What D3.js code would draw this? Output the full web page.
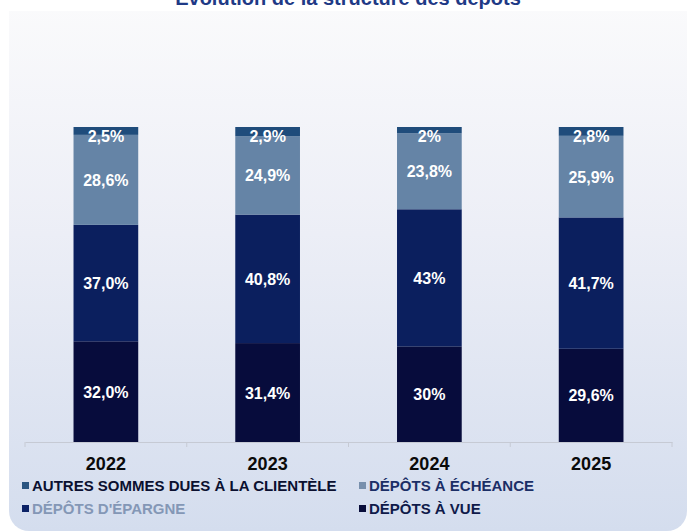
<!DOCTYPE html>
<html>
<head>
<meta charset="utf-8">
<script src="https://cdn.jsdelivr.net/npm/d3@7"></script>
<style>
  html, body { margin: 0; padding: 0; background: #ffffff; }
  svg { display: block; font-family: Arial, "Liberation Sans", sans-serif; }
</style>
</head>
<body>
<svg id="chart" width="691" height="532"></svg>
<script>
const categories = ["2022", "2023", "2024", "2025"];
const seriesNames = ["DÉPÔTS À VUE", "DÉPÔTS D'ÉPARGNE", "DÉPÔTS À ÉCHÉANCE", "AUTRES SOMMES DUES À LA CLIENTÈLE"];
const depotsAVue = [32.0, 31.4, 30, 29.6];
const depotsEpargne = [37.0, 40.8, 43, 41.7];
const depotsEcheance = [28.6, 24.9, 23.8, 25.9];
const autresSommes = [2.5, 2.9, 2, 2.8];
const labelsVue = ["32,0%", "31,4%", "30%", "29,6%"];
const labelsEpargne = ["37,0%", "40,8%", "43%", "41,7%"];
const labelsEcheance = ["28,6%", "24,9%", "23,8%", "25,9%"];
const labelsAutres = ["2,5%", "2,9%", "2%", "2,8%"];
const title = "Évolution de la structure des dépôts";

const seriesKeys = ["vue", "epargne", "echeance", "autres"];
const seriesValues = { vue: depotsAVue, epargne: depotsEpargne, echeance: depotsEcheance, autres: autresSommes };
const seriesLabels = { vue: labelsVue, epargne: labelsEpargne, echeance: labelsEcheance, autres: labelsAutres };
const colors = { vue: "#070c3c", epargne: "#0b1f5e", echeance: "#6584a6", autres: "#1f4c7b" };

const table = categories.map((c, i) => {
  const row = { cat: c, i: i };
  seriesKeys.forEach(k => row[k] = seriesValues[k][i]);
  return row;
});

const svg = d3.select("#chart");
const defs = svg.append("defs");
const grad = defs.append("linearGradient").attr("id", "bg").attr("x1", 0).attr("y1", 0).attr("x2", 0).attr("y2", 1);
grad.append("stop").attr("offset", "0%").attr("stop-color", "#fbfbfc");
grad.append("stop").attr("offset", "45%").attr("stop-color", "#eceef6");
grad.append("stop").attr("offset", "100%").attr("stop-color", "#d4ddee");

svg.append("rect").attr("x", 9).attr("y", -10).attr("width", 678).attr("height", 541)
  .attr("rx", 20).attr("fill", "url(#bg)");
svg.append("rect").attr("x", 9).attr("y", 0).attr("width", 678).attr("height", 11).attr("fill", "#ffffff");

svg.append("text").attr("x", 348).attr("y", 5).attr("text-anchor", "middle")
  .attr("font-size", 20).attr("font-weight", "bold").attr("fill", "#1f3a86").text(title);

const x = d3.scaleBand().domain(categories).range([25, 672]).paddingInner(0).paddingOuter(0);
const y = d3.scaleLinear().domain([0, 1]).range([442, 127]);
const barW = x.bandwidth() * 0.4;

const stack = d3.stack().keys(seriesKeys).offset(d3.stackOffsetExpand);
const stacked = stack(table);

const g = svg.append("g");
stacked.forEach(layer => {
  const key = layer.key;
  g.selectAll(null).data(layer).enter().append("rect")
    .attr("x", d => x(d.data.cat) + (x.bandwidth() - barW) / 2)
    .attr("y", d => y(d[1]))
    .attr("width", barW)
    .attr("height", d => y(d[0]) - y(d[1]))
    .attr("fill", colors[key]);
});
stacked.forEach(layer => {
  const key = layer.key;
  g.selectAll(null).data(layer).enter().append("text")
    .attr("x", d => x(d.data.cat) + x.bandwidth() / 2)
    .attr("y", d => Math.max((y(d[0]) + y(d[1])) / 2, y(d[1]) + 9) + 6)
    .attr("text-anchor", "middle")
    .attr("font-size", 16).attr("font-weight", "bold").attr("fill", "#ffffff")
    .text(d => seriesLabels[key][d.data.i]);
});

// axis
const axis = d3.axisBottom(x).tickSize(0).tickPadding(0);
const ax = svg.append("g").attr("transform", "translate(0,442)").call(axis);
ax.select(".domain").attr("stroke", "#c6cad4").attr("stroke-width", 1);
ax.selectAll(".tick text").attr("font-size", 18).attr("font-weight", "bold").attr("fill", "#0a0a0a")
  .attr("dy", null).attr("y", 28).attr("font-family", "Arial, 'Liberation Sans', sans-serif");
const bounds = categories.map(c => x(c)).concat([x.range()[1]]);
ax.selectAll(".sep").data(bounds).enter().append("line").attr("class", "sep")
  .attr("x1", d => d).attr("x2", d => d).attr("y1", 0).attr("y2", 5)
  .attr("stroke", "#c6cad4").attr("stroke-width", 1);

// legend
const legendItems = [
  { key: "autres", name: seriesNames[3], x: 22, y: 491, text: "#0b1030" },
  { key: "echeance", name: seriesNames[2], x: 359, y: 491, text: "#1b2e66" },
  { key: "epargne", name: seriesNames[1], x: 22, y: 514, text: "#8497b6" },
  { key: "vue", name: seriesNames[0], x: 359, y: 514, text: "#0f1a4a" }
];
const swatchColors = { vue: "#080d3a", epargne: "#0c2266", echeance: "#7890ad", autres: "#2a5581" };
const lg = svg.append("g");
legendItems.forEach(it => {
  lg.append("rect").attr("x", it.x).attr("y", it.y - 9).attr("width", 7).attr("height", 7).attr("fill", swatchColors[it.key]);
  lg.append("text").attr("x", it.x + 10).attr("y", it.y).attr("font-size", 15).attr("font-weight", "bold")
    .attr("fill", it.text).text(it.name);
});
</script>
</body>
</html>
